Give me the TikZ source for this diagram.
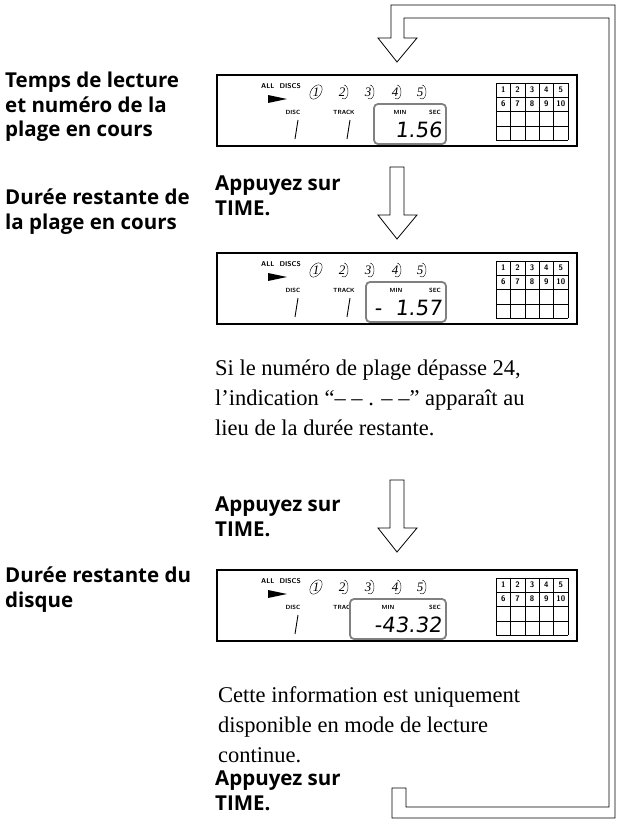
\documentclass[tikz,border=0pt]{standalone}
\usepackage{fontspec}
\setmainfont{Liberation Serif}
\newfontfamily\labfont{Open Sans}
\newfontfamily\segfont{DejaVu Sans}[FakeSlant=0.12]
\usetikzlibrary{positioning}
\tikzset{
  lab/.style = {anchor=north west, align=left, inner sep=0pt,
    font=\labfont\bfseries\fontsize{20.5}{24.5}\selectfont},
  para/.style = {anchor=north west, align=left, inner sep=0pt,
    font=\fontsize{22.5}{30}\selectfont},
  tiny/.style = {inner sep=0pt, font=\sffamily\bfseries\fontsize{6}{6}\selectfont},
  discno/.style = {inner sep=0pt, font=\itshape\fontsize{13}{13}\selectfont},
  seg/.style = {inner sep=0pt, font=\segfont\fontsize{21}{21}\selectfont},
  hollow/.style = {draw, line width=0.8pt, fill=white},
}
% one display panel: #1 top, #2 time box left, #3 time text, #4 track digit
\newcommand\lcdpanel[4]{%
  \begin{scope}[shift={(0,#1)}]
  \draw[line width=1.6pt] (217,0) rectangle (577,71);
  \node[tiny, font=\sffamily\bfseries\fontsize{7}{7}\selectfont] at (281,11) {ALL\ \ DISCS};
  \fill (268,20) -- (287,24) -- (268,28) -- cycle;
  \foreach \d/\x in {1/316,2/342,3/368,4/395,5/420}
    \node[discno] at (\x,17) {\d};
  \draw (316,17) ellipse [x radius=5pt, y radius=8pt, rotate=-35];
  \foreach \x in {342,368,395,420}
    \draw (\x+2,10) arc (90:-120:4pt and 7pt);
  \node[tiny] at (293,37) {DISC};
  \node[tiny] at (344,37) {TRACK};
  \draw[line width=0.9pt] (298,45) -- (295,64);
  #4
  \draw[gray, line width=1.8pt, rounded corners=4pt, fill=white] (#2,29) rectangle (446,69);
  \node[tiny] at (#2/2+446/2-10,37) {MIN};
  \node[tiny] at (435,37) {SEC};
  \node[seg, anchor=east] at (442,55) {#3};
  \foreach \i in {0,...,5}
    \draw (496+14.4*\i,8) -- (496+14.4*\i,65);
  \foreach \j in {0,...,4}
    \draw (496,8+14.25*\j) -- (568,8+14.25*\j);
  \foreach \n [count=\i] in {1,...,5}
    \node[tiny, font=\sffamily\bfseries\fontsize{8}{8}\selectfont] at (496+14.4*\i-7.2,15) {\n};
  \foreach \n [count=\i] in {6,...,10}
    \node[tiny, font=\sffamily\bfseries\fontsize{8}{8}\selectfont] at (496+14.4*\i-7.2,29) {\n};
  \end{scope}}
\newcommand\hollowdown[1]{%
  \draw[hollow] (390,#1) -- (404,#1) -- (404,#1+48) -- (417,#1+48) -- (397,#1+72)
    -- (378,#1+48) -- (390,#1+48) -- cycle;}
\begin{document}
\begin{tikzpicture}[x=1pt, y=-1pt]
\useasboundingbox (0,0) rectangle (626,831);
% return loop
\draw[line width=0.8pt] (392,807) -- (392,788) -- (406,788) -- (406,807) -- (609,807)
  -- (609,18) -- (404,18) -- (404,38) -- (417,38) -- (397,62) -- (378,38) -- (391,38)
  -- (391,5) -- (615,5) -- (615,818) -- (392,818) -- cycle;
\lcdpanel{75}{374}{1.56}{\draw[line width=0.9pt] (350,45) -- (347,64);}
\lcdpanel{253}{366}{-\ \ 1.57}{\draw[line width=0.9pt] (350,45) -- (347,64);}
\lcdpanel{570}{350}{-43.32}{}
\hollowdown{167}
\hollowdown{480}
\node[lab] (readtime) at (5,72) {Temps de lecture\\et numéro de la\\plage en cours};
\node[lab] (press1) at (215,176) {Appuyez sur\\TIME.};
\node[lab] (trackleft) at (5,189) {Durée restante de\\la plage en cours};
\node[para] (note1) at (215,360) {Si le numéro de plage dépasse 24,\\l’indication “– – . – –” apparaît au\\lieu de la durée restante.};
\node[lab] (press2) at (215,497) {Appuyez sur\\TIME.};
\node[lab] (discleft) at (5,567) {Durée restante du\\disque};
\node[para] (note2) at (218,686) {Cette information est uniquement\\disponible en mode de lecture\\continue.};
\node[lab] (press3) at (215,771) {Appuyez sur\\TIME.};
\end{tikzpicture}
\end{document}
